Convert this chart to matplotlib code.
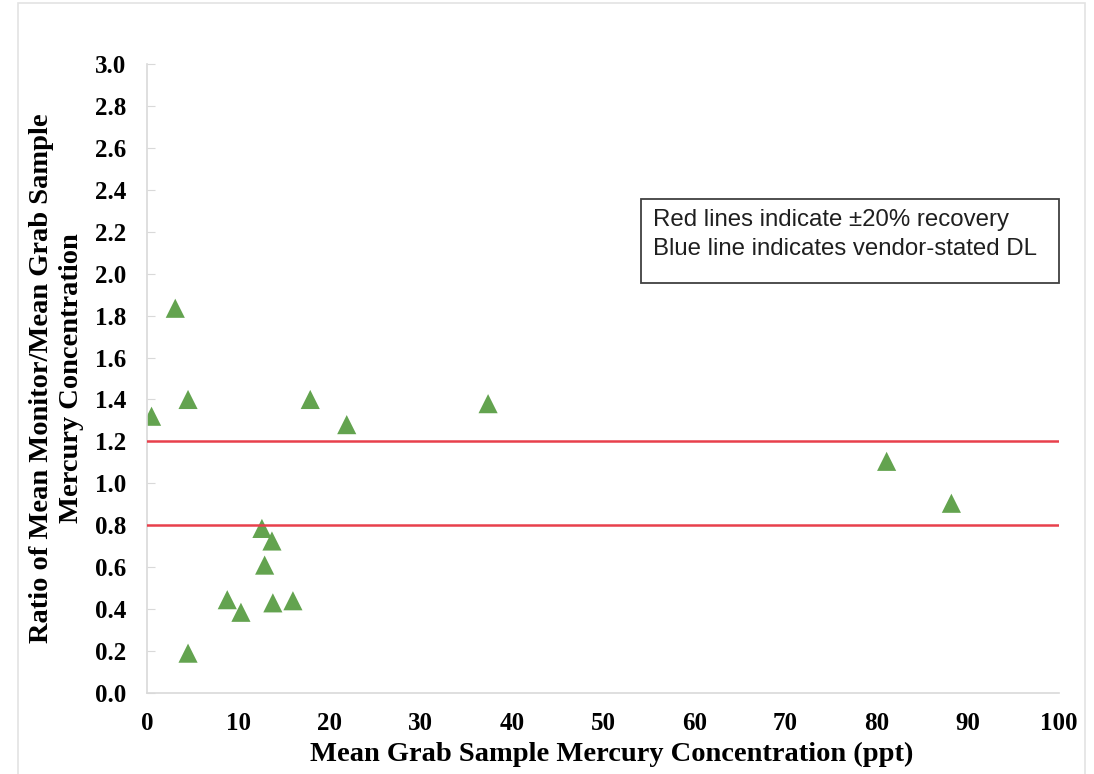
import matplotlib.pyplot as plt
from matplotlib.patches import Rectangle

# --- Data ---
grab_conc = [0.5, 3.1, 4.5, 4.5, 8.8, 10.3, 12.6, 12.9, 13.7, 13.8, 16.0, 17.9, 21.9, 37.4, 81.1, 88.2]
ratio = [1.32, 1.835, 1.40, 0.19, 0.445, 0.385, 0.785, 0.61, 0.725, 0.43, 0.44, 1.40, 1.28, 1.38, 1.105, 0.905]
red_lines = [0.8, 1.2]

x_ticks = list(range(0, 101, 10))
y_ticks = [i / 10 for i in range(0, 31, 2)]

note_lines = ["Red lines indicate \u00b120% recovery", "Blue line indicates vendor-stated DL"]

SERIF = ["Liberation Serif", "DejaVu Serif"]
SANS = ["Liberation Sans", "DejaVu Sans"]
GRID_GRAY = "#d9d9d9"

fig = plt.figure(figsize=(10.94, 7.74), dpi=100)
ax = fig.add_axes([147 / 1094, 1 - 693 / 774, (1059 - 147) / 1094, (693 - 64) / 774])

# outer chart frame (light gray, like the Excel chart area)
fig.patches.append(Rectangle((18 / 1094, -0.01), (1085 - 18) / 1094, 1 - 3 / 774 + 0.01,
                             transform=fig.transFigure, fill=False,
                             edgecolor="#e3e3e3", lw=1.2))

ax.scatter(grab_conc, ratio, marker="^", s=190, color="#63a34f", edgecolor="none", zorder=2)
for yv in red_lines:
    ax.axhline(yv, color="#e8404c", lw=1.8, zorder=3)

ax.set_xlim(0, 100)
ax.set_ylim(0, 3.0)
ax.set_xticks(x_ticks)
ax.set_yticks(y_ticks)
ax.set_yticklabels([f"{v:.1f}" for v in y_ticks])

for side in ["top", "right"]:
    ax.spines[side].set_visible(False)
for side in ["left", "bottom"]:
    ax.spines[side].set_color(GRID_GRAY)
    ax.spines[side].set_linewidth(1.2)

ax.tick_params(axis="y", direction="in", length=6, color=GRID_GRAY, pad=15)
ax.tick_params(axis="x", length=0, pad=14)
for lab in ax.get_xticklabels() + ax.get_yticklabels():
    lab.set_fontfamily(SERIF)
    lab.set_fontweight("bold")
    lab.set_fontsize(18)

ax.set_xlabel("Mean Grab Sample Mercury Concentration (ppt)", family=SERIF,
              fontweight="bold", fontsize=20.5)
ax.xaxis.set_label_coords(0.509, -0.077, transform=ax.transAxes)
ax.set_ylabel("Ratio of Mean Monitor/Mean Grab Sample\nMercury Concentration", family=SERIF,
              fontweight="bold", fontsize=20.5, linespacing=1.25)
ax.yaxis.set_label_coords(-0.069, 0.5, transform=ax.transAxes)

# note box
fig.patches.append(Rectangle((641 / 1094, 1 - 283 / 774), (1059 - 641) / 1094, (283 - 199) / 774,
                             transform=fig.transFigure, fill=False,
                             edgecolor="#404040", lw=1.3))
for i, line in enumerate(note_lines):
    fig.text(653 / 1094, 1 - (220 + 29 * i) / 774, line, family=SANS, fontsize=17.3,
             color="#1f1f1f", ha="left", va="center")

fig.savefig("out.png", dpi=100)
